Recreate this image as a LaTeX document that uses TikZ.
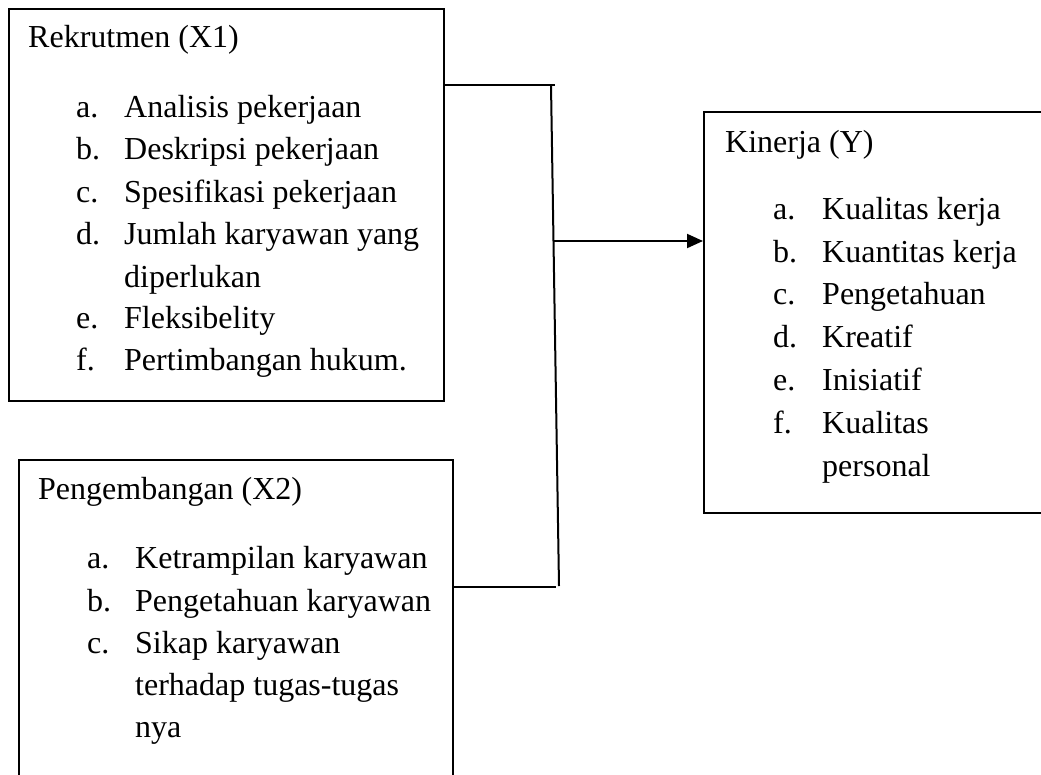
\documentclass[tikz,border=0pt]{standalone}
\usepackage{fontspec}
\setmainfont{Liberation Serif}
\usetikzlibrary{arrows.meta}
\begin{document}
\begin{tikzpicture}[x=1pt,y=-1pt,
  boxstyle/.style={draw=black,line width=2pt,rectangle,inner sep=0pt,anchor=north west},
  txt/.style={anchor=base west,inner sep=0pt,font=\fontsize{32}{40}\selectfont},
  conn/.style={draw=black,line width=2pt},
  arr/.style={conn,-{Triangle[length=16pt,width=14pt]}}]
\useasboundingbox (0,0) rectangle (1041,774);
% boxes
\node[boxstyle,minimum width=435pt,minimum height=392pt] (b1) at (8,8) {};
\node[boxstyle,minimum width=434pt,minimum height=360pt] (b2) at (18,459) {};
\node[boxstyle,minimum width=345pt,minimum height=401pt] (b3) at (703,111) {};
% box 1 text
\node[txt] (t1) at (28,47) {Rekrutmen (X1)};
\node[txt] (l1a) at (76,117) {a.}; \node[txt] (i1a) at (124,117) {Analisis pekerjaan};
\node[txt] (l1b) at (76,159) {b.}; \node[txt] (i1b) at (124,159) {Deskripsi pekerjaan};
\node[txt] (l1c) at (76,202) {c.}; \node[txt] (i1c) at (124,202) {Spesifikasi pekerjaan};
\node[txt] (l1d) at (76,244) {d.}; \node[txt] (i1d) at (124,244) {Jumlah karyawan yang};
\node[txt] (i1d2) at (124,287) {diperlukan};
\node[txt] (l1e) at (76,328) {e.}; \node[txt] (i1e) at (124,328) {Fleksibelity};
\node[txt] (l1f) at (76,370) {f.}; \node[txt] (i1f) at (124,370) {Pertimbangan hukum.};
% box 2 text
\node[txt] (t2) at (38,499) {Pengembangan (X2)};
\node[txt] (l2a) at (87,568) {a.}; \node[txt] (i2a) at (135,568) {Ketrampilan karyawan};
\node[txt] (l2b) at (87,611) {b.}; \node[txt] (i2b) at (135,611) {Pengetahuan karyawan};
\node[txt] (l2c) at (87,653) {c.}; \node[txt] (i2c) at (135,653) {Sikap karyawan};
\node[txt] (i2c2) at (135,695) {terhadap tugas-tugas};
\node[txt] (i2c3) at (135,737) {nya};
% box 3 text
\node[txt] (t3) at (725,152) {Kinerja (Y)};
\node[txt] (l3a) at (773,219) {a.}; \node[txt] (i3a) at (822,219) {Kualitas kerja};
\node[txt] (l3b) at (773,262) {b.}; \node[txt] (i3b) at (822,262) {Kuantitas kerja};
\node[txt] (l3c) at (773,304) {c.}; \node[txt] (i3c) at (822,304) {Pengetahuan};
\node[txt] (l3d) at (773,347) {d.}; \node[txt] (i3d) at (822,347) {Kreatif};
\node[txt] (l3e) at (773,390) {e.}; \node[txt] (i3e) at (822,390) {Inisiatif};
\node[txt] (l3f) at (773,433) {f.}; \node[txt] (i3f) at (822,433) {Kualitas};
\node[txt] (i3f2) at (822,476) {personal};
% connectors
\coordinate (j1) at (555,85);
\coordinate (vtop) at (551,85);
\coordinate (vbot) at (559,586);
\coordinate (j2) at (556,587);
\coordinate (js) at (553,241);
\draw[conn] (b1.east |- j1) -- (j1);
\draw[conn] (vtop) -- (vbot);
\draw[conn] (b2.east |- j2) -- (j2);
\draw[arr] (js) -- (b3.west |- js);
\end{tikzpicture}
\end{document}
